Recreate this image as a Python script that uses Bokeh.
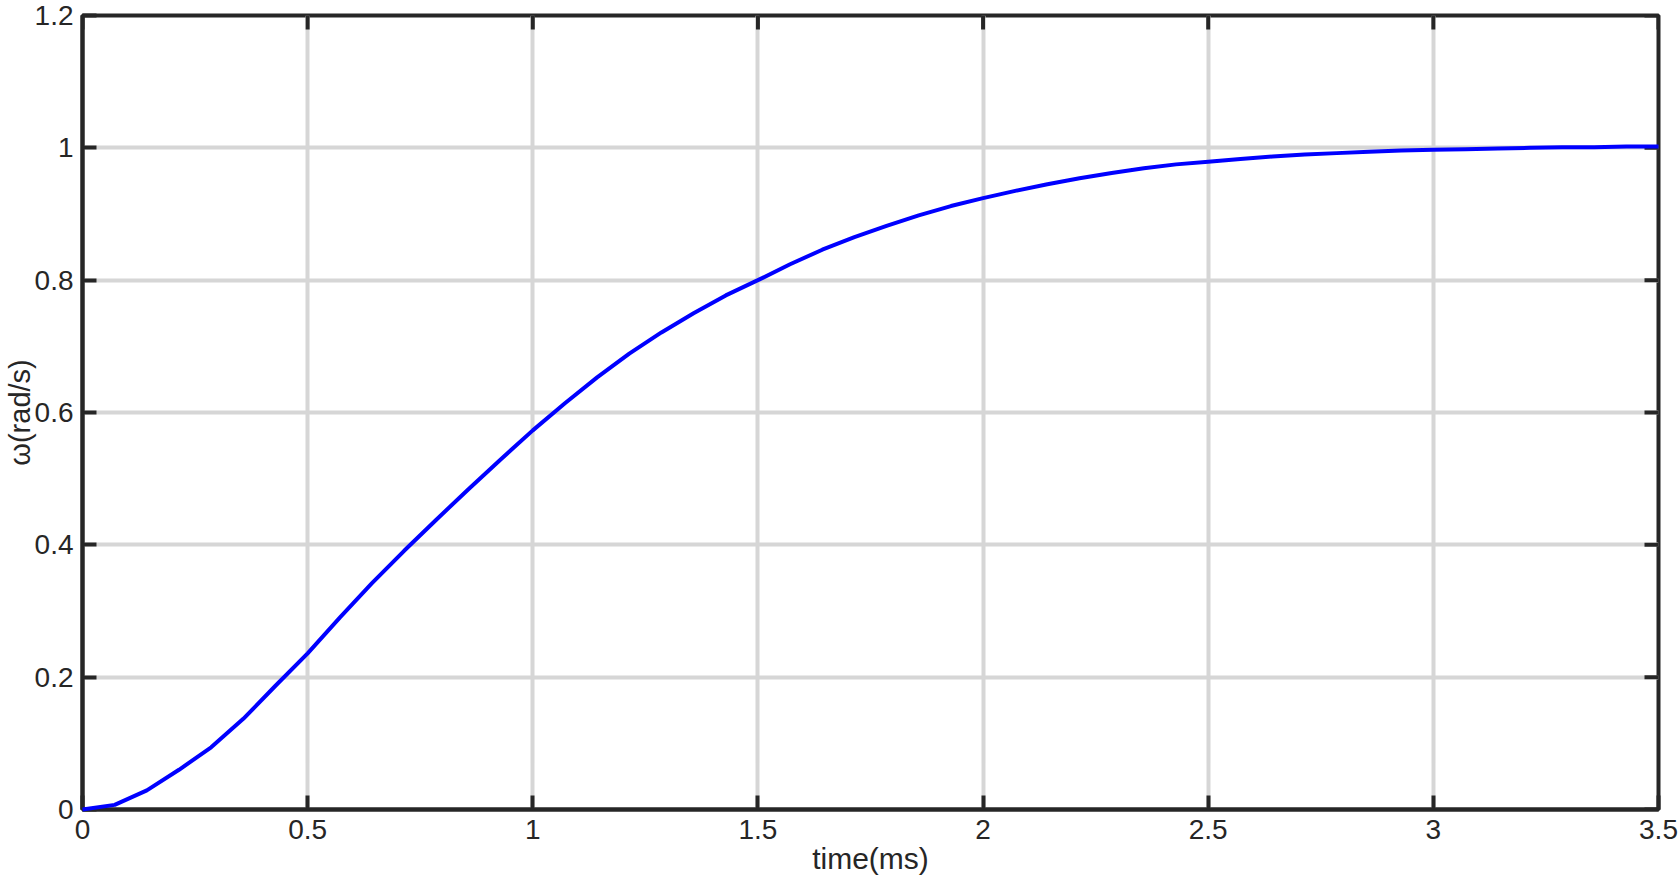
import math
from bokeh.plotting import figure
from bokeh.models import Range1d, FixedTicker
from bokeh.embed import file_html
from bokeh.resources import INLINE

# data (time in ms, angular speed in rad/s)
time_ms = [0, 0.0714, 0.1429, 0.2143, 0.2857, 0.3571, 0.4286, 0.5, 0.5714, 0.6429,
           0.7143, 0.7857, 0.8571, 0.9286, 1.0, 1.0714, 1.1429, 1.2143, 1.2857, 1.3571,
           1.4286, 1.5, 1.5714, 1.6429, 1.7143, 1.7857, 1.8571, 1.9286, 2.0, 2.0714,
           2.1429, 2.2143, 2.2857, 2.3571, 2.4286, 2.5, 2.5714, 2.6429, 2.7143, 2.7857,
           2.8571, 2.9286, 3.0, 3.0714, 3.1429, 3.2143, 3.2857, 3.3571, 3.4286, 3.5]
omega = [0, 0.007, 0.029, 0.060, 0.094, 0.137, 0.187, 0.236, 0.290, 0.342,
         0.391, 0.438, 0.484, 0.529, 0.573, 0.614, 0.653, 0.689, 0.721, 0.750,
         0.777, 0.800, 0.824, 0.846, 0.865, 0.882, 0.898, 0.912, 0.924, 0.935,
         0.945, 0.954, 0.962, 0.969, 0.975, 0.979, 0.983, 0.987, 0.990, 0.992,
         0.994, 0.996, 0.997, 0.998, 0.999, 1.000, 1.001, 1.001, 1.002, 1.002]

x_ticks = [0, 0.5, 1, 1.5, 2, 2.5, 3, 3.5]
x_tick_labels = ["0", "0.5", "1", "1.5", "2", "2.5", "3", "3.5"]
y_ticks = [0, 0.2, 0.4, 0.6, 0.8, 1.0, 1.2]
y_tick_labels = ["0", "0.2", "0.4", "0.6", "0.8", "1", "1.2"]
x_title = "time(ms)"
y_title = "ω(rad/s)"
x_min, x_max = 0, 3.5
y_min, y_max = 0, 1.2

FONT = "Liberation Sans"
TXT = "#262626"
AX = "#262626"

p = figure(width=1680, height=877, output_backend="svg", toolbar_location=None,
           x_range=Range1d(x_min, x_max), y_range=Range1d(y_min, y_max),
           min_border_left=82, min_border_right=22, min_border_top=15, min_border_bottom=67,
           x_axis_label=x_title, y_axis_label=y_title)
p.background_fill_color = "white"
p.border_fill_color = "white"
p.outline_line_color = AX
p.outline_line_width = 4

for ax, ticks, labels in ((p.xaxis[0], x_ticks, x_tick_labels), (p.yaxis[0], y_ticks, y_tick_labels)):
    ax.ticker = FixedTicker(ticks=ticks)
    ax.major_label_overrides = {t: l for t, l in zip(ticks, labels)}
    ax.minor_tick_line_color = None
    ax.major_tick_in = 14
    ax.major_tick_out = 0
    ax.major_tick_line_width = 4
    ax.major_tick_line_color = AX
    ax.axis_line_width = 4
    ax.axis_line_color = AX
    ax.major_label_text_font = FONT
    ax.major_label_text_font_size = "28px"
    ax.major_label_text_color = TXT
    ax.major_label_text_line_height = 1.0
    ax.axis_label_text_font = FONT
    ax.axis_label_text_font_size = "30px"
    ax.axis_label_text_font_style = "normal"
    ax.axis_label_text_color = TXT
    ax.axis_label_text_line_height = 1.0

p.xaxis[0].major_label_standoff = 10
p.xaxis[0].axis_label_standoff = 0
p.yaxis[0].major_label_standoff = 9
p.yaxis[0].axis_label_standoff = -4
p.yaxis[0].axis_label_text_font_size = "29px"

p.xgrid.ticker = FixedTicker(ticks=x_ticks)
p.ygrid.ticker = FixedTicker(ticks=y_ticks)
for g in (p.xgrid[0], p.ygrid[0]):
    g.grid_line_color = "#d6d6d6"
    g.grid_line_width = 4

# inward ticks on the top and right edges (half of each dash is clipped by the frame)
p.scatter(x_ticks, [y_max] * len(x_ticks), marker="dash", size=28, angle=math.pi / 2,
          line_color=AX, line_width=4)
p.scatter([x_max] * len(y_ticks), y_ticks, marker="dash", size=28,
          line_color=AX, line_width=4)

r = p.line(time_ms, omega, line_color="#0000ff", line_width=4)
r.level = "overlay"

open("out.html", "w").write(file_html(p, INLINE))
